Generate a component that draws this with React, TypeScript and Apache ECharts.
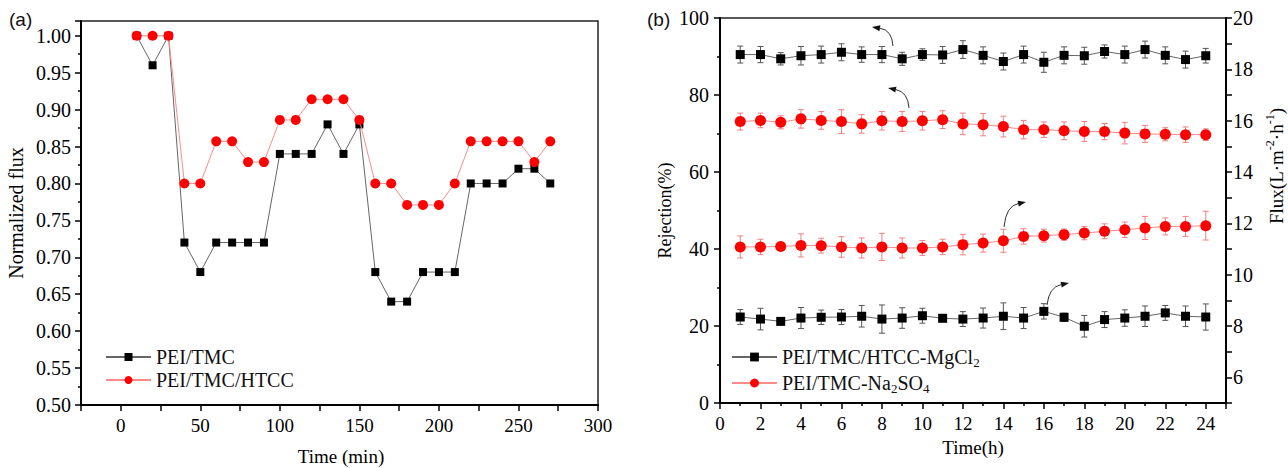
import React, { useEffect, useRef } from 'react';
import * as echarts from 'echarts';

// ---------- (a) data ----------
const timeMin = [10, 20, 30, 40, 50, 60, 70, 80, 90, 100, 110, 120, 130, 140, 150, 160, 170, 180, 190, 200, 210, 220, 230, 240, 250, 260, 270];
const fluxPEITMC = [1.0, 0.96, 1.0, 0.72, 0.68, 0.72, 0.72, 0.72, 0.72, 0.84, 0.84, 0.84, 0.88, 0.84, 0.88, 0.68, 0.64, 0.64, 0.68, 0.68, 0.68, 0.8, 0.8, 0.8, 0.82, 0.82, 0.8];
const fluxPEITMCHTCC = [1.0, 1.0, 1.0, 0.8, 0.8, 0.857, 0.857, 0.829, 0.829, 0.886, 0.886, 0.914, 0.914, 0.914, 0.886, 0.8, 0.8, 0.771, 0.771, 0.771, 0.8, 0.857, 0.857, 0.857, 0.857, 0.829, 0.857];

// ---------- (b) data ----------
const timeH = [1, 2, 3, 4, 5, 6, 7, 8, 9, 10, 11, 12, 13, 14, 15, 16, 17, 18, 19, 20, 21, 22, 23, 24];
const rejMg = [90.5, 90.5, 89.4, 90.2, 90.5, 91.1, 90.5, 90.5, 89.4, 90.5, 90.4, 91.8, 90.3, 88.7, 90.5, 88.5, 90.3, 90.2, 91.3, 90.5, 91.8, 90.3, 89.2, 90.2];
const rejMgErr = [2.2, 2.1, 1.6, 2.4, 2.2, 2.2, 2.0, 2.1, 1.7, 1.5, 2.2, 2.3, 2.2, 2.2, 2.2, 2.6, 2.2, 2.2, 1.7, 2.2, 2.2, 2.2, 2.2, 1.9];
const rejNa = [73.1, 73.4, 72.9, 73.8, 73.4, 73.1, 72.5, 73.3, 73.1, 73.3, 73.6, 72.5, 72.3, 71.8, 71.0, 71.0, 70.7, 70.5, 70.5, 70.1, 69.9, 69.8, 69.7, 69.7];
const rejNaErr = [2.2, 1.9, 1.7, 2.4, 2.3, 3.1, 2.4, 2.4, 2.6, 2.4, 2.3, 2.8, 2.9, 2.7, 2.4, 2.0, 2.3, 2.6, 2.1, 2.8, 2.2, 1.7, 2.0, 1.5];
const fluxNa = [11.08, 11.08, 11.1, 11.14, 11.13, 11.08, 11.04, 11.08, 11.04, 11.04, 11.08, 11.17, 11.23, 11.32, 11.49, 11.52, 11.56, 11.62, 11.69, 11.75, 11.82, 11.88, 11.88, 11.91];
const fluxNaErr = [0.43, 0.3, 0.14, 0.45, 0.29, 0.4, 0.39, 0.53, 0.39, 0.29, 0.3, 0.4, 0.35, 0.45, 0.3, 0.25, 0.22, 0.26, 0.29, 0.3, 0.45, 0.33, 0.39, 0.56];
const fluxMg = [8.35, 8.27, 8.18, 8.31, 8.34, 8.35, 8.38, 8.27, 8.31, 8.4, 8.3, 8.27, 8.31, 8.38, 8.31, 8.57, 8.34, 7.99, 8.25, 8.31, 8.38, 8.51, 8.38, 8.35];
const fluxMgErr = [0.29, 0.42, 0.13, 0.41, 0.28, 0.29, 0.42, 0.55, 0.4, 0.29, 0.13, 0.29, 0.39, 0.52, 0.41, 0.3, 0.16, 0.42, 0.31, 0.32, 0.4, 0.29, 0.4, 0.51];

const NAME_A1 = 'PEI/TMC';
const NAME_A2 = 'PEI/TMC/HTCC';
const NAME_B1 = 'PEI/TMC/HTCC-MgCl2';
const NAME_B2 = 'PEI/TMC-Na2SO4';

const FONT = '"Liberation Serif", "Times New Roman", serif';
const BLACK = '#000000';
const BLACK_LINE = '#666666';
const RED = '#ff0000';
const RED_LINE = '#ff8a8a';

function errorBarSeries(xs: number[], ys: number[], errs: number[], yAxisIndex: number, color: string) {
  return {
    type: 'custom',
    name: 'err',
    xAxisIndex: 1,
    yAxisIndex,
    z: 1,
    silent: true,
    data: xs.map((x, i) => [x, ys[i] - errs[i], ys[i] + errs[i]]),
    encode: { x: 0, y: [1, 2] },
    renderItem: (params: any, api: any) => {
      const x = api.value(0);
      const lo = api.coord([x, api.value(1)]);
      const hi = api.coord([x, api.value(2)]);
      const w = 3;
      const style = { stroke: color, lineWidth: 1 };
      return {
        type: 'group',
        children: [
          { type: 'line', shape: { x1: lo[0], y1: lo[1], x2: hi[0], y2: hi[1] }, style },
          { type: 'line', shape: { x1: lo[0] - w, y1: lo[1], x2: lo[0] + w, y2: lo[1] }, style },
          { type: 'line', shape: { x1: hi[0] - w, y1: hi[1], x2: hi[0] + w, y2: hi[1] }, style },
        ],
      };
    },
  };
}

function arrow(sx: number, sy: number, cx: number, cy: number, ex: number, ey: number) {
  const dx = ex - cx;
  const dy = ey - cy;
  const len = Math.sqrt(dx * dx + dy * dy) || 1;
  const ux = dx / len;
  const uy = dy / len;
  const hl = 8;
  const hw = 3;
  const bx = ex - ux * hl;
  const by = ey - uy * hl;
  return [
    {
      type: 'bezierCurve',
      shape: { x1: sx, y1: sy, cpx1: cx, cpy1: cy, x2: bx, y2: by },
      style: { stroke: '#333', lineWidth: 1, fill: null },
      silent: true,
    },
    {
      type: 'polygon',
      shape: { points: [[ex, ey], [bx - uy * hw, by + ux * hw], [bx + uy * hw, by - ux * hw]] },
      style: { fill: '#111' },
      silent: true,
    },
  ];
}

export default function App() {
  const ref = useRef<HTMLDivElement>(null);

  useEffect(() => {
    if (!ref.current) return;
    const chart = echarts.init(ref.current, null, { renderer: 'svg' });

    const axisLine = { show: true, onZero: false, lineStyle: { color: '#000', width: 2 } };
    const tickStyle = { lineStyle: { color: '#000', width: 1.5 } };
    const labelStyle = { fontFamily: FONT, fontSize: 19, color: '#000' };
    const nameStyle = { fontFamily: FONT, fontSize: 19, color: '#000' };

    const option: any = {
      animation: false,
      backgroundColor: '#ffffff',
      grid: [
        { left: 81, top: 21, width: 517, height: 384, show: true, borderColor: '#222', borderWidth: 1.5, backgroundColor: 'transparent', outerBoundsMode: 'none' },
        { left: 720, top: 18, width: 506, height: 385, show: true, borderColor: '#222', borderWidth: 1.5, backgroundColor: 'transparent', outerBoundsMode: 'none' },
      ],
      xAxis: [
        {
          type: 'value', gridIndex: 0, min: -25, max: 300, interval: 25,
          axisLine, splitLine: { show: false },
          axisTick: { show: true, length: 6, ...tickStyle },
          axisLabel: {
            ...labelStyle, margin: 11,
            formatter: (v: number) => (v >= 0 && v % 50 === 0 ? String(v) : ''),
          },
        },
        {
          type: 'value', gridIndex: 1, min: 0, max: 25, interval: 2,
          axisLine, splitLine: { show: false },
          axisTick: { show: true, length: 6, ...tickStyle },
          minorTick: { show: true, splitNumber: 2, length: 3, lineStyle: { color: '#000', width: 1.5 } },
          axisLabel: {
            ...labelStyle, margin: 11,
            formatter: (v: number) => (v <= 24 ? String(v) : ''),
          },
          name: 'Time(h)', nameLocation: 'middle', nameGap: 33, nameTextStyle: nameStyle,
        },
      ],
      yAxis: [
        {
          type: 'value', gridIndex: 0, min: 0.5, max: 1.02, interval: 0.05,
          axisLine, splitLine: { show: false },
          axisTick: { show: true, length: 6, ...tickStyle },
          minorTick: { show: true, splitNumber: 2, length: 3, lineStyle: { color: '#000', width: 1.5 } },
          axisLabel: {
            ...labelStyle, fontSize: 20, margin: 10,
            formatter: (v: number) => (v <= 1.0001 ? v.toFixed(2) : ''),
          },
          name: 'Normalized flux', nameLocation: 'middle', nameGap: 55, nameRotate: 90,
          nameTextStyle: { ...nameStyle, fontSize: 20 },
        },
        {
          type: 'value', gridIndex: 1, min: 0, max: 100, interval: 20,
          axisLine, splitLine: { show: false },
          axisTick: { show: true, length: 6, ...tickStyle },
          minorTick: { show: true, splitNumber: 2, length: 3, lineStyle: { color: '#000', width: 1.5 } },
          axisLabel: { ...labelStyle, fontSize: 20, margin: 11 },
          name: 'Rejection(%)', nameLocation: 'middle', nameGap: 46, nameRotate: 90,
          nameTextStyle: { ...nameStyle, fontSize: 18 },
        },
        {
          type: 'value', gridIndex: 1, position: 'right', min: 5, max: 20, interval: 1,
          axisLine, splitLine: { show: false },
          axisTick: { show: true, length: 6, ...tickStyle },
          axisLabel: {
            ...labelStyle, fontSize: 20, margin: 7,
            formatter: (v: number) => (v % 2 === 0 ? String(v) : ''),
          },
        },
      ],
      legend: [
        {
          left: 100, top: 342, orient: 'vertical', itemWidth: 45, itemHeight: 10, itemGap: 3,
          data: [NAME_A1, NAME_A2], selectedMode: false,
          textStyle: { fontFamily: FONT, fontSize: 20, color: '#111' },
        },
        {
          left: 726, top: 342, orient: 'vertical', itemWidth: 45, itemHeight: 11, itemGap: 4,
          data: [NAME_B1, NAME_B2], selectedMode: false,
          formatter: (name: string) =>
            name === NAME_B1 ? '{n|PEI/TMC/HTCC-MgCl}{s|2}' : '{n|PEI/TMC-Na}{s|2}{n|SO}{s|4}',
          textStyle: {
            fontFamily: FONT, fontSize: 20, color: '#111',
            rich: {
              n: { fontFamily: FONT, fontSize: 20, color: '#111' },
              s: { fontFamily: FONT, fontSize: 13, color: '#111', verticalAlign: 'top', padding: [11, 0, 0, 0] },
            },
          },
        },
      ],
      graphic: [
        { type: 'text', left: 9, top: 10, style: { text: '(a)', fontFamily: '"Liberation Sans", Arial, sans-serif', fontSize: 19, fill: '#111' } },
        { type: 'text', left: 647, top: 10, style: { text: '(b)', fontFamily: '"Liberation Sans", Arial, sans-serif', fontSize: 19, fill: '#111' } },
        {
          type: 'text', x: 341, y: 456,
          style: { text: 'Time (min)', fontFamily: FONT, fontSize: 19, fill: '#000', align: 'center', verticalAlign: 'middle' },
        },
        {
          type: 'text', x: 1275, y: 166, rotation: Math.PI / 2,
          style: {
            text: '{n|Flux(L·m}{s|-2}{n|·h}{s|-1}{n|)}',
            align: 'center', verticalAlign: 'middle',
            fontFamily: FONT, fontSize: 19, fill: '#000',
            rich: {
              n: { fontFamily: FONT, fontSize: 19, fill: '#000', verticalAlign: 'bottom', padding: [3, 0, 0, 0] },
              s: { fontFamily: FONT, fontSize: 12, fill: '#000', verticalAlign: 'top' },
            },
          },
        },
        ...arrow(893, 46, 892, 30, 872, 27),
        ...arrow(909, 108, 908, 92, 888, 88),
        ...arrow(1004, 227, 1006, 206, 1026, 202),
        ...arrow(1047, 305, 1049, 287, 1069, 283),
      ],
      series: [
        {
          type: 'line', name: NAME_A1, xAxisIndex: 0, yAxisIndex: 0,
          data: timeMin.map((t, i) => [t, fluxPEITMC[i]]),
          symbol: 'rect', symbolSize: 8, z: 3,
          itemStyle: { color: BLACK }, lineStyle: { color: BLACK_LINE, width: 1 },
        },
        {
          type: 'line', name: NAME_A2, xAxisIndex: 0, yAxisIndex: 0,
          data: timeMin.map((t, i) => [t, fluxPEITMCHTCC[i]]),
          symbol: 'circle', symbolSize: 10, z: 4,
          itemStyle: { color: RED }, lineStyle: { color: RED_LINE, width: 1 },
        },
        errorBarSeries(timeH, rejMg, rejMgErr, 1, '#555'),
        errorBarSeries(timeH, fluxMg, fluxMgErr, 2, '#555'),
        errorBarSeries(timeH, rejNa, rejNaErr, 1, '#f08080'),
        errorBarSeries(timeH, fluxNa, fluxNaErr, 2, '#f08080'),
        {
          type: 'line', name: NAME_B1, xAxisIndex: 1, yAxisIndex: 1,
          data: timeH.map((t, i) => [t, rejMg[i]]),
          symbol: 'rect', symbolSize: 9, z: 3,
          itemStyle: { color: BLACK }, lineStyle: { color: BLACK_LINE, width: 1 },
        },
        {
          type: 'line', name: NAME_B1, xAxisIndex: 1, yAxisIndex: 2,
          data: timeH.map((t, i) => [t, fluxMg[i]]),
          symbol: 'rect', symbolSize: 9, z: 3,
          itemStyle: { color: BLACK }, lineStyle: { color: BLACK_LINE, width: 1 },
        },
        {
          type: 'line', name: NAME_B2, xAxisIndex: 1, yAxisIndex: 1,
          data: timeH.map((t, i) => [t, rejNa[i]]),
          symbol: 'circle', symbolSize: 11, z: 3,
          itemStyle: { color: RED }, lineStyle: { color: RED_LINE, width: 1 },
        },
        {
          type: 'line', name: NAME_B2, xAxisIndex: 1, yAxisIndex: 2,
          data: timeH.map((t, i) => [t, fluxNa[i]]),
          symbol: 'circle', symbolSize: 11, z: 3,
          itemStyle: { color: RED }, lineStyle: { color: RED_LINE, width: 1 },
        },
      ],
    };

    chart.setOption(option);
    return () => {
      chart.dispose();
    };
  }, []);

  return (
    <div
      ref={ref}
      style={{ position: 'fixed', left: 0, top: 0, width: 1288, height: 468, background: '#fff' }}
    />
  );
}
